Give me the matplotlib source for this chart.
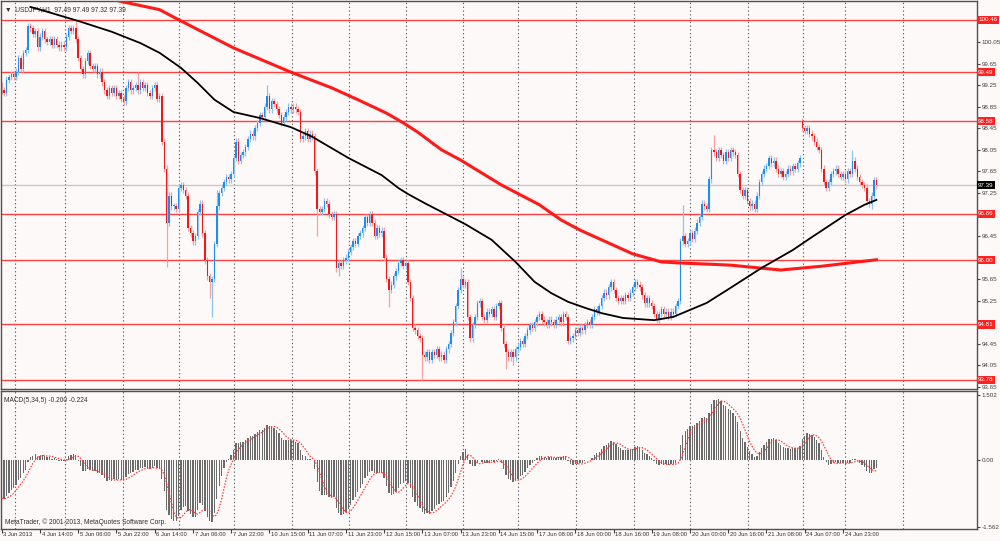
import numpy as np
import pandas as pd
import matplotlib.pyplot as plt

# closes hora a hora (USDJPY H1)
closes = [
    99.15, 99.10, 99.35, 99.40, 99.45, 99.40, 99.50, 99.75, 99.55, 99.85,
    99.90, 100.35, 100.30, 100.20, 100.25, 99.95, 100.15, 100.25, 100.10, 100.05,
    100.10, 100.00, 100.10, 100.00, 99.95, 100.00, 99.95, 100.15, 100.30, 100.25,
    100.30, 100.10, 99.75, 99.55, 99.45, 99.70, 99.85, 99.60, 99.55, 99.60,
    99.45, 99.50, 99.30, 99.15, 99.05, 99.20, 99.10, 99.20, 99.05, 99.10,
    99.00, 98.95, 99.20, 99.30, 99.15, 99.20, 99.25, 99.15, 99.30, 99.20,
    99.25, 99.10, 99.05, 99.20, 99.25, 99.00, 99.05, 98.20, 97.70, 96.70,
    97.20, 97.00, 97.00, 96.95, 97.35, 97.40, 97.30, 97.20, 96.60, 96.50,
    96.35, 96.45, 96.90, 97.05, 96.50, 96.00, 95.70, 95.60, 95.65, 96.30,
    97.00, 97.25, 97.35, 97.45, 97.55, 97.50, 97.60, 97.90, 98.20, 97.85,
    97.95, 98.00, 98.10, 98.25, 98.35, 98.30, 98.45, 98.55, 98.70, 98.65,
    98.85, 99.05, 98.80, 98.95, 98.90, 98.80, 98.70, 98.55, 98.65, 98.75,
    98.85, 98.80, 98.85, 98.80, 98.75, 98.25, 98.30, 98.40, 98.25, 98.35,
    98.30, 97.65, 96.95, 96.90, 96.95, 97.10, 97.05, 96.85, 96.80, 96.85,
    95.85, 95.95, 95.90, 96.00, 96.05, 96.15, 96.25, 96.35, 96.30, 96.45,
    96.50, 96.60, 96.80, 96.70, 96.85, 96.70, 96.45, 96.60, 96.50, 96.55,
    96.05, 95.65, 95.45, 95.55, 95.70, 95.80, 95.95, 96.00, 95.90, 95.95,
    95.60, 95.30, 94.75, 94.70, 94.60, 94.55, 94.25, 94.20, 94.30, 94.15,
    94.30, 94.25, 94.35, 94.20, 94.25, 94.15, 94.35, 94.45, 94.65, 94.85,
    95.15, 95.45, 95.65, 95.55, 95.60, 94.95, 94.55, 94.80, 94.95, 95.20,
    95.25, 94.95, 94.90, 95.05, 95.00, 95.10, 94.95, 95.15, 95.20, 94.75,
    94.45, 94.30, 94.20, 94.30, 94.20, 94.35, 94.40, 94.50, 94.45, 94.60,
    94.70, 94.80, 94.75, 94.85, 94.95, 95.00, 94.90, 94.85, 94.80, 94.90,
    94.85, 94.80, 94.90, 94.95, 94.85, 95.00, 94.95, 94.50, 94.55, 94.60,
    94.70, 94.65, 94.75, 94.70, 94.80, 94.85, 94.80, 94.95, 95.10, 95.05,
    95.15, 95.30, 95.40, 95.35, 95.50, 95.60, 95.45, 95.30, 95.25, 95.30,
    95.25, 95.35, 95.30, 95.40, 95.50, 95.60, 95.55, 95.50, 95.35, 95.20,
    95.30, 95.20, 95.15, 95.00, 94.90, 95.00, 95.10, 95.00, 95.05, 94.95,
    95.05, 95.00, 95.15, 95.25, 96.35, 96.45, 96.30, 96.35, 96.50, 96.40,
    96.55, 96.70, 96.80, 97.05, 97.00, 96.95, 97.50, 98.05, 98.00, 97.90,
    98.05, 97.95, 97.85, 98.00, 97.90, 98.05, 98.00, 97.95, 97.60, 97.30,
    97.20, 97.30, 97.10, 97.00, 97.05, 96.95, 97.20, 97.45, 97.60, 97.70,
    97.75, 97.90, 97.80, 97.85, 97.70, 97.60, 97.65, 97.55, 97.60, 97.70,
    97.65, 97.75, 97.70, 97.80, 97.90, 98.45, 98.40, 98.45, 98.35, 98.30,
    98.20, 98.10, 98.05, 97.70, 97.45, 97.35, 97.45, 97.60, 97.65, 97.70,
    97.60, 97.55, 97.60, 97.50, 97.65, 97.60, 97.85, 97.70, 97.55, 97.45,
    97.40, 97.35, 97.10, 97.05, 97.20, 97.49, 97.39,
]
first_open = 99.25
gap_opens = {335: 98.58}
spike_highs = {31: 100.46, 57: 99.49, 90: 97.30, 111: 99.25, 192: 95.86,
               285: 97.03, 298: 98.33, 335: 98.60, 356: 98.05}
spike_lows = {69: 95.88, 87: 95.30, 88: 94.95, 132: 96.45, 141: 95.70, 162: 95.13,
              176: 93.78, 211: 93.99, 214: 94.06, 364: 96.95}

# medias moveis (amostradas do grafico)
ma_black_bars = [12, 16, 32, 46, 58, 66, 75, 82, 89, 97, 108, 121, 130, 145, 159, 166, 170,
                 177, 184, 194, 205, 215, 223, 230, 237, 244, 251, 260, 273, 281, 288, 295,
                 305, 318, 331, 339, 353, 361, 366]
ma_black_vals = [100.70, 100.65, 100.44, 100.24, 100.03, 99.85, 99.57, 99.29, 98.98, 98.75,
                 98.64, 98.47, 98.29, 97.90, 97.58, 97.34, 97.23, 97.06, 96.90, 96.67, 96.38,
                 95.97, 95.60, 95.39, 95.23, 95.12, 95.02, 94.93, 94.89, 94.95, 95.08, 95.21,
                 95.49, 95.86, 96.19, 96.43, 96.84, 97.03, 97.12]
ma_red_bars = [37, 47, 66, 75, 97, 121, 138, 149, 161, 168, 174, 184, 192, 209, 225, 234,
               242, 254, 264, 276, 284, 295, 305, 326, 343, 366]
ma_red_vals = [100.94, 100.83, 100.65, 100.44, 99.94, 99.49, 99.20, 98.98, 98.73, 98.55,
               98.38, 98.05, 97.86, 97.40, 97.03, 96.75, 96.56, 96.32, 96.12, 95.97, 95.95,
               95.93, 95.91, 95.82, 95.89, 96.01]

levels = [100.46, 99.49, 98.58, 96.86, 96.00, 94.81, 93.78]
last_price = 97.39
price_ticks = [100.05, 99.65, 99.25, 98.85, 98.45, 98.05, 97.65, 97.25, 96.45,
               95.65, 95.25, 94.45, 94.05, 93.65]

time_labels = ['3 Jun 2013', '4 Jun 14:00', '5 Jun 06:00', '5 Jun 22:00', '6 Jun 14:00',
               '7 Jun 06:00', '7 Jun 22:00', '10 Jun 15:00', '11 Jun 07:00', '11 Jun 23:00',
               '12 Jun 15:00', '13 Jun 07:00', '13 Jun 23:00', '14 Jun 15:00', '17 Jun 08:00',
               '18 Jun 00:00', '18 Jun 16:00', '19 Jun 08:00', '20 Jun 00:00', '20 Jun 16:00',
               '21 Jun 08:00', '24 Jun 07:00', '24 Jun 23:00']
label_step = 16
day_lines = [5.4, 26.4, 50.6, 74.1, 97.1, 121.3, 145.2, 169.0, 192.9, 215.9, 240.2,
             264.4, 287.9, 312.1, 335.1, 352.7, 377.0]

# EMAs antes do primeiro candle visivel (estimadas)
prior_fast_ema = 99.5
prior_slow_ema = 100.35

bg = '#fdf9f8'
fs = 4.5
n = len(closes)
x = np.arange(n)
close = np.array(closes)
opens = np.r_[first_open, close[:-1]]
for k, v in gap_opens.items():
    opens[k] = v
hi = np.maximum(opens, close) + 0.06
lo = np.minimum(opens, close) - 0.06
for k, v in spike_highs.items():
    hi[k] = max(hi[k], v)
for k, v in spike_lows.items():
    lo[k] = min(lo[k], v)

# MACD(5,34,5) estilo MT4
f, s = prior_fast_ema, prior_slow_ema
macd = []
for c in closes:
    f += 2 / 6 * (c - f)
    s += 2 / 35 * (c - s)
    macd.append(f - s)
macd = np.array(macd)
signal = pd.Series(macd).rolling(5, min_periods=1).mean()

plt.rcParams['font.family'] = ['Liberation Sans', 'DejaVu Sans']
fig = plt.figure(figsize=(10, 5.41), dpi=100, facecolor=bg)
ax = fig.add_axes([0.001, 1 - 389 / 541, 0.976, 388 / 541], facecolor=bg)
ax2 = fig.add_axes([0.001, 1 - 529 / 541, 0.976, 138 / 541], facecolor=bg)

xlim = (-0.3, 408.1)

# painel de precos
for d in day_lines:
    for a in (ax, ax2):
        a.axvline(d, color='#606060', lw=0.8, ls=(0, (1.2, 2.2)), zorder=0)
for lvl in levels:
    ax.axhline(lvl, color='#ff4040', lw=1.0, zorder=1)
ax.axhline(last_price, color='#c8c8c8', lw=1.0, zorder=1)

up = close >= opens
wick_col = np.where(up, '#8cc4f2', '#f6a2a2')
body_col = np.where(up, '#1e8cf0', '#f01818')
ax.vlines(x, lo, hi, colors=wick_col, lw=0.9, zorder=2)
body_h = np.maximum(np.abs(close - opens), 0.02)
ax.bar(x, body_h, bottom=np.minimum(opens, close), width=0.6, color=body_col, lw=0, zorder=3)

ax.plot(ma_red_bars, ma_red_vals, color='#ff1a1a', lw=2.2, zorder=4, solid_joinstyle='round')
ax.plot(ma_black_bars, ma_black_vals, color='black', lw=1.3, zorder=5, solid_joinstyle='round')

ax.set_xlim(*xlim)
ax.set_ylim(93.613, 100.81)
ax.set_xticks([])
ax.yaxis.tick_right()
ax.set_yticks(price_ticks)
ax.set_yticklabels([f'{t:.2f}' for t in price_ticks])
ax.tick_params(axis='y', length=2, width=0.8, pad=1.5, labelsize=fs, colors='#404040')

ytr = ax.get_yaxis_transform()
for lvl in levels:
    ax.text(1.0012, lvl, f'{lvl:.2f}', transform=ytr, va='center', ha='left', fontsize=fs,
            color='white', clip_on=False, zorder=10,
            bbox=dict(boxstyle='square,pad=0.25', fc='#ff2020', ec='none'))
ax.text(1.0012, last_price, f'{last_price:.2f}', transform=ytr, va='center', ha='left',
        fontsize=fs, color='white', clip_on=False, zorder=10,
        bbox=dict(boxstyle='square,pad=0.25', fc='black', ec='none'))

ax.text(0.004, 0.988, '\u25bc  USDJPY,H1  97.49 97.49 97.32 97.39', transform=ax.transAxes,
        va='top', ha='left', fontsize=4.8, color='#303030')

# painel MACD
ax2.bar(x, macd, width=0.55, color='#6a6a6a', lw=0, zorder=2)
ax2.plot(x, signal, color='#ff3b3b', lw=0.9, ls=(0, (1.2, 1.2)), zorder=3)
ax2.set_xlim(*xlim)
ax2.set_ylim(-1.61, 1.59)
ax2.yaxis.tick_right()
ax2.set_yticks([1.502, 0, -1.562])
ax2.set_yticklabels(['1.502', '0.00', '-1.562'])
ax2.tick_params(axis='y', length=2, width=0.8, pad=1.5, labelsize=fs, colors='#404040')

tick_bars = [i * label_step for i in range(len(time_labels))]
ax2.set_xticks(tick_bars)
ax2.set_xticklabels([])
ax2.tick_params(axis='x', length=3, width=0.8, colors='#404040')
xtr = ax2.get_xaxis_transform()
for b, lab in zip(tick_bars, time_labels):
    ax2.text(b + 0.7, -0.02, lab, transform=xtr, va='top', ha='left', fontsize=4.2,
             color='#303030', clip_on=False)

ax2.text(0.003, 0.96, 'MACD(5,34,5) -0.200 -0.224', transform=ax2.transAxes, va='top',
         ha='left', fontsize=4.8, color='#303030')
ax2.text(0.004, 0.025, 'MetaTrader, \u00a9 2001-2013, MetaQuotes Software Corp.',
         transform=ax2.transAxes, va='bottom', ha='left', fontsize=4.8, color='#303030')

for a in (ax, ax2):
    for sp in a.spines.values():
        sp.set_color('#505050')
        sp.set_linewidth(1.0)

fig.savefig('out.png', dpi=100, facecolor=bg)
